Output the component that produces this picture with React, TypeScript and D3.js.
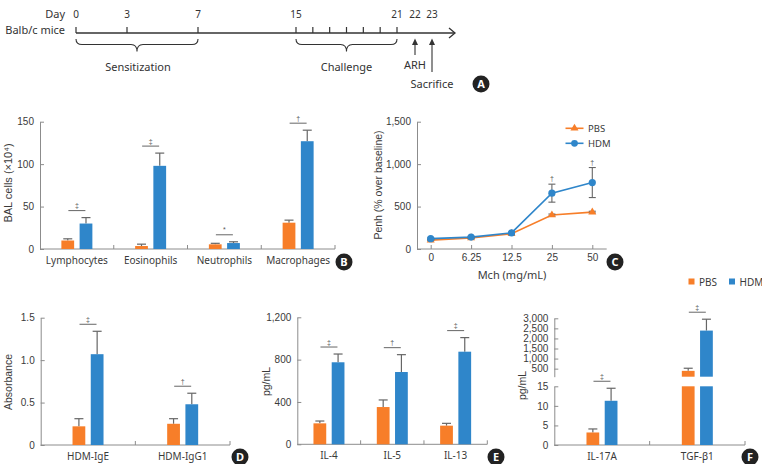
import { useEffect, useRef } from "react";
import * as d3 from "d3";

const ORANGE = "#F77E29";
const BLUE = "#2F86CA";
const AXIS = "#8c8c8c";
const ERR = "#666666";
const TEXT = "#3a3a3a";

// A: protocol timeline
const dayLabels = [0, 3, 7, 15, 21, 22, 23];
const dayTicks = [0, 3, 7, 15, 16, 17, 18, 19, 20, 21];

// B: BAL cells (x10^4)
const bCats = ["Lymphocytes", "Eosinophils", "Neutrophils", "Macrophages"];
const bPbs = [10, 3.5, 5.5, 31];
const bPbsErr = [2, 2.2, 1.2, 3];
const bHdm = [30, 98, 7, 127];
const bHdmErr = [7, 15, 1.5, 13];
const bSig = ["‡", "‡", "*", "†"];
const bTicks = [0, 50, 100, 150];

// C: Penh (% over baseline)
const mch = ["0", "6.25", "12.5", "25", "50"];
const cPbs = [105, 130, 180, 400, 435];
const cPbsErr = [6, 6, 8, 12, 10];
const cHdm = [122, 140, 190, 658, 783];
const cHdmErr = [8, 8, 10, 106, 177];
const cSig = ["", "", "", "†", "†"];
const cTicks = [0, 500, 1000, 1500];

// D: absorbance
const dCats = ["HDM-IgE", "HDM-IgG1"];
const dPbs = [0.22, 0.25];
const dPbsErr = [0.09, 0.06];
const dHdm = [1.07, 0.48];
const dHdmErr = [0.27, 0.13];
const dSig = ["‡", "†"];
const dTicks = [0, 0.5, 1.0, 1.5];

// E: pg/mL
const eCats = ["IL-4", "IL-5", "IL-13"];
const ePbs = [198, 352, 176];
const ePbsErr = [22, 67, 22];
const eHdm = [775, 683, 875];
const eHdmErr = [78, 164, 133];
const eSig = ["‡", "†", "‡"];
const eTicks = [0, 400, 800, 1200];

// F: pg/mL, broken axis
const fCats = ["IL-17A", "TGF-β1"];
const fPbs = [3.2, 390];
const fPbsErr = [0.9, 130];
const fHdm = [11.3, 2390];
const fHdmErr = [3.2, 565];
const fSig = ["‡", "‡"];
const fLowTicks = [0, 5, 10, 15];
const fHighTicks = [500, 1000, 1500, 2000, 2500, 3000];

const sans = "'Noto Sans', sans-serif";
const num = "'Liberation Sans', Arial, sans-serif";

type Sel = d3.Selection<SVGGElement, unknown, null, undefined>;

function leftAxis(g: Sel, scale: d3.ScaleLinear<number, number>, ticks: number[], fmt: (d: number) => string, x: number) {
  const a = g
    .append("g")
    .attr("transform", `translate(${x},0)`)
    .call(d3.axisLeft(scale).tickValues(ticks).tickFormat(fmt as any).tickSize(-4).tickSizeOuter(0).tickPadding(6));
  a.attr("font-family", num).attr("font-size", 10);
  a.select(".domain").attr("stroke", AXIS);
  a.selectAll(".tick line").attr("stroke", AXIS);
  a.selectAll(".tick text").attr("fill", TEXT);
}

function barPanel(
  g: Sel,
  cats: string[],
  pbs: number[],
  pbsErr: number[],
  hdm: number[],
  hdmErr: number[],
  sig: string[],
  xr: [number, number],
  yv: (v: number) => number,
  segments: [number, number][]
) {
  const x = d3.scaleBand<string>().domain(cats).range(xr);
  const inner = d3.scaleBand<string>().domain(["PBS", "HDM"]).range([-15.5, 15.5]).paddingInner(0.3);
  const y0 = yv(0);

  // bottom axis
  g.append("line").attr("x1", xr[0]).attr("x2", xr[1]).attr("y1", y0).attr("y2", y0).attr("stroke", AXIS);
  cats.forEach((c) => {
    const bx = (x(c) ?? 0) + x.bandwidth();
    g.append("line").attr("x1", bx).attr("x2", bx).attr("y1", y0).attr("y2", y0 - 4).attr("stroke", AXIS);
    g.append("text")
      .attr("x", (x(c) ?? 0) + x.bandwidth() / 2)
      .attr("y", y0 + 15)
      .attr("text-anchor", "middle")
      .attr("font-family", sans)
      .attr("font-size", 10)
      .attr("fill", TEXT)
      .text(c);
  });

  cats.forEach((c, i) => {
    const cx = (x(c) ?? 0) + x.bandwidth() / 2;
    const groups = [
      { key: "PBS", v: pbs[i], e: pbsErr[i], color: ORANGE },
      { key: "HDM", v: hdm[i], e: hdmErr[i], color: BLUE },
    ];
    groups.forEach((s) => {
      const bx = cx + (inner(s.key) ?? 0);
      const bw = inner.bandwidth();
      // error bar (upper only)
      g.append("line")
        .attr("x1", bx + bw / 2)
        .attr("x2", bx + bw / 2)
        .attr("y1", yv(s.v))
        .attr("y2", yv(s.v + s.e))
        .attr("stroke", ERR)
        .attr("stroke-width", 1.2);
      g.append("line")
        .attr("x1", bx + bw / 2 - 4.5)
        .attr("x2", bx + bw / 2 + 4.5)
        .attr("y1", yv(s.v + s.e))
        .attr("y2", yv(s.v + s.e))
        .attr("stroke", ERR)
        .attr("stroke-width", 1.2);
      segments.forEach(([lo, hi]) => {
        if (s.v <= lo) return;
        const top = yv(Math.min(s.v, hi));
        const bot = yv(lo);
        g.append("rect").attr("x", bx).attr("y", top).attr("width", bw).attr("height", bot - top).attr("fill", s.color);
      });
    });
    // significance
    const ly = yv(Math.max(pbs[i] + pbsErr[i], hdm[i] + hdmErr[i])) - 7;
    g.append("line").attr("x1", cx - 8.5).attr("x2", cx + 8.5).attr("y1", ly).attr("y2", ly).attr("stroke", ERR).attr("stroke-width", 1);
    g.append("text")
      .attr("x", cx)
      .attr("y", ly - 2.5)
      .attr("text-anchor", "middle")
      .attr("font-family", num)
      .attr("font-size", 7)
      .attr("fill", "#555")
      .text(sig[i]);
  });
}

function yTitle(g: Sel, text: string, x: number, y: number, size = 10) {
  g.append("text")
    .attr("transform", `translate(${x},${y}) rotate(-90)`)
    .attr("text-anchor", "middle")
    .attr("font-family", num)
    .attr("font-size", size)
    .attr("fill", TEXT)
    .text(text);
}

function badge(g: Sel, letter: string, x: number, y: number) {
  g.append("circle").attr("cx", x).attr("cy", y).attr("r", 8.5).attr("fill", "#222");
  g.append("text")
    .attr("x", x)
    .attr("y", y + 4)
    .attr("text-anchor", "middle")
    .attr("font-family", sans)
    .attr("font-weight", 700)
    .attr("font-size", 11)
    .attr("fill", "#fff")
    .text(letter);
}

function brace(x1: number, x2: number, y0: number, y1: number, y2: number) {
  const r = 6;
  const m = (x1 + x2) / 2;
  return `M${x1},${y0}Q${x1},${y1} ${x1 + r},${y1}L${m - r},${y1}Q${m},${y1} ${m},${y2}Q${m},${y1} ${m + r},${y1}L${x2 - r},${y1}Q${x2},${y1} ${x2},${y0}`;
}

export default function App() {
  const ref = useRef<SVGSVGElement>(null);

  useEffect(() => {
    if (!ref.current) return;
    const svg = d3.select(ref.current);
    svg.selectAll("*").remove();
    const root = svg.append("g") as unknown as Sel;

    // ---------- A: timeline
    const xd = d3.scaleLinear().domain([0, 3, 7, 15, 21, 22, 23]).range([76, 127, 198, 296, 397, 415, 432]);
    const lineY = 33;
    const ink = "#333";
    root.append("line").attr("x1", xd(0)).attr("x2", 455).attr("y1", lineY).attr("y2", lineY).attr("stroke", ink).attr("stroke-width", 1.3);
    root
      .append("path")
      .attr("d", `M449,${lineY - 5}L455,${lineY}L449,${lineY + 5}`)
      .attr("fill", "none")
      .attr("stroke", ink)
      .attr("stroke-width", 1.3);
    dayTicks.forEach((d) => {
      root.append("line").attr("x1", xd(d)).attr("x2", xd(d)).attr("y1", lineY).attr("y2", lineY - 6).attr("stroke", ink).attr("stroke-width", 1.2);
    });
    dayLabels.forEach((d) => {
      root
        .append("text")
        .attr("x", xd(d))
        .attr("y", 18)
        .attr("text-anchor", "middle")
        .attr("font-family", sans)
        .attr("font-size", 10)
        .attr("fill", ink)
        .text(d);
    });
    root.append("text").attr("x", 65).attr("y", 18).attr("text-anchor", "end").attr("font-family", sans).attr("font-size", 11).attr("fill", ink).text("Day");
    root
      .append("text")
      .attr("x", 65)
      .attr("y", 33.5)
      .attr("text-anchor", "end")
      .attr("font-family", sans)
      .attr("font-size", 11)
      .attr("fill", ink)
      .text("Balb/c mice");
    root.append("path").attr("d", brace(xd(0), xd(7), 39, 44.5, 51.5)).attr("fill", "none").attr("stroke", ink).attr("stroke-width", 1.1);
    root.append("path").attr("d", brace(xd(15), xd(21), 39, 44.5, 51.5)).attr("fill", "none").attr("stroke", ink).attr("stroke-width", 1.1);
    root
      .append("text")
      .attr("x", (xd(0) + xd(7)) / 2 + 1)
      .attr("y", 71)
      .attr("text-anchor", "middle")
      .attr("font-family", sans)
      .attr("font-size", 11)
      .attr("fill", ink)
      .text("Sensitization");
    root
      .append("text")
      .attr("x", (xd(15) + xd(21)) / 2)
      .attr("y", 71)
      .attr("text-anchor", "middle")
      .attr("font-family", sans)
      .attr("font-size", 11)
      .attr("fill", ink)
      .text("Challenge");
    const arrow = (d: number, yEnd: number, label: string, ly: number) => {
      const ax = xd(d);
      root.append("line").attr("x1", ax).attr("x2", ax).attr("y1", 41).attr("y2", yEnd).attr("stroke", ink).attr("stroke-width", 1.1);
      root.append("path").attr("d", `M${ax},38.5L${ax - 3},45L${ax + 3},45Z`).attr("fill", ink);
      root
        .append("text")
        .attr("x", ax)
        .attr("y", ly)
        .attr("text-anchor", "middle")
        .attr("font-family", sans)
        .attr("font-size", 11)
        .attr("fill", ink)
        .text(label);
    };
    arrow(22, 55, "ARH", 69);
    arrow(23, 72, "Sacrifice", 88);
    badge(root, "A", 481, 84);

    // ---------- B
    const yB = d3.scaleLinear().domain([0, 150]).range([249, 121.7]);
    leftAxis(root, yB, bTicks, (d) => String(d), 40);
    barPanel(root, bCats, bPbs, bPbsErr, bHdm, bHdmErr, bSig, [40, 335], yB, [[0, Infinity]]);
    yTitle(root, "BAL cells (×10⁴)", 11.5, 183, 11);
    badge(root, "B", 344, 262);

    // ---------- C
    const yC = d3.scaleLinear().domain([0, 1500]).range([249, 121.7]);
    const xC = d3.scalePoint<string>().domain(mch).range([430.7, 592.3]);
    leftAxis(root, yC, cTicks, d3.format(","), 417);
    root.append("line").attr("x1", 417).attr("x2", 606.7).attr("y1", 249).attr("y2", 249).attr("stroke", AXIS);
    const ax = root
      .append("g")
      .attr("transform", "translate(0,249)")
      .call(d3.axisBottom(xC).tickSize(-4).tickSizeOuter(0).tickPadding(6));
    ax.attr("font-family", num).attr("font-size", 10);
    ax.select(".domain").remove();
    ax.selectAll(".tick line").attr("stroke", AXIS);
    ax.selectAll(".tick text").attr("fill", TEXT).attr("dy", "0.55em");
    root
      .append("text")
      .attr("x", 512)
      .attr("y", 279)
      .attr("text-anchor", "middle")
      .attr("font-family", sans)
      .attr("font-size", 11)
      .attr("fill", TEXT)
      .text("Mch (mg/mL)");
    yTitle(root, "Penh (% over baseline)", 382, 185, 10.5);

    const series = [
      { vals: cPbs, errs: cPbsErr, color: ORANGE, shape: "tri" },
      { vals: cHdm, errs: cHdmErr, color: BLUE, shape: "dot" },
    ];
    series.forEach((s) => {
      const line = d3
        .line<number>()
        .x((_, i) => xC(mch[i]) ?? 0)
        .y((v) => yC(v));
      root.append("path").attr("d", line(s.vals)).attr("fill", "none").attr("stroke", s.color).attr("stroke-width", 1.6);
      s.vals.forEach((v, i) => {
        const px = xC(mch[i]) ?? 0;
        const hi = yC(v + s.errs[i]);
        const lo = yC(v - s.errs[i]);
        root.append("line").attr("x1", px).attr("x2", px).attr("y1", hi).attr("y2", lo).attr("stroke", ERR).attr("stroke-width", 1.1);
        [hi, lo].forEach((yy) =>
          root.append("line").attr("x1", px - 3.5).attr("x2", px + 3.5).attr("y1", yy).attr("y2", yy).attr("stroke", ERR).attr("stroke-width", 1.1)
        );
      });
      s.vals.forEach((v, i) => {
        const px = xC(mch[i]) ?? 0;
        if (s.shape === "dot") {
          root.append("circle").attr("cx", px).attr("cy", yC(v)).attr("r", 3.6).attr("fill", s.color);
        } else {
          root
            .append("path")
            .attr("transform", `translate(${px},${yC(v)})`)
            .attr("d", d3.symbol().type(d3.symbolTriangle).size(28)())
            .attr("fill", s.color);
        }
      });
    });
    cSig.forEach((sg, i) => {
      if (!sg) return;
      root
        .append("text")
        .attr("x", xC(mch[i]) ?? 0)
        .attr("y", yC(cHdm[i] + cHdmErr[i]) - 3)
        .attr("text-anchor", "middle")
        .attr("font-family", num)
        .attr("font-size", 7)
        .attr("fill", "#555")
        .text(sg);
    });
    // C legend
    [
      { label: "PBS", color: ORANGE, shape: "tri", y: 128.3 },
      { label: "HDM", color: BLUE, shape: "dot", y: 143.3 },
    ].forEach((l) => {
      root.append("line").attr("x1", 565.5).attr("x2", 583.5).attr("y1", l.y).attr("y2", l.y).attr("stroke", l.color).attr("stroke-width", 1.6);
      if (l.shape === "dot") root.append("circle").attr("cx", 574.5).attr("cy", l.y).attr("r", 3.4).attr("fill", l.color);
      else
        root
          .append("path")
          .attr("transform", `translate(574.5,${l.y})`)
          .attr("d", d3.symbol().type(d3.symbolTriangle).size(28)())
          .attr("fill", l.color);
      root
        .append("text")
        .attr("x", 588)
        .attr("y", l.y + 3.5)
        .attr("font-family", sans)
        .attr("font-size", 9.5)
        .attr("fill", TEXT)
        .text(l.label);
    });
    badge(root, "C", 615, 262);

    // ---------- D
    const yD = d3.scaleLinear().domain([0, 1.5]).range([445, 317.7]);
    leftAxis(root, yD, dTicks, (d) => (d === 0 ? "0" : d3.format(".1f")(d)), 40.7);
    barPanel(root, dCats, dPbs, dPbsErr, dHdm, dHdmErr, dSig, [40.7, 230], yD, [[0, Infinity]]);
    yTitle(root, "Absorbance", 11.5, 382, 10.5);
    badge(root, "D", 240, 457);

    // ---------- E
    const yE = d3.scaleLinear().domain([0, 1200]).range([444.3, 317.3]);
    leftAxis(root, yE, eTicks, d3.format(","), 297.3);
    barPanel(root, eCats, ePbs, ePbsErr, eHdm, eHdmErr, eSig, [297.3, 487.3], yE, [[0, Infinity]]);
    yTitle(root, "pg/mL", 269.5, 381.5, 10.5);
    badge(root, "E", 496, 457);

    // ---------- F (broken axis)
    const yLow = d3.scaleLinear().domain([0, 15]).range([445, 386.3]);
    const yHigh = d3.scaleLinear().domain([100, 3000]).range([376.7, 318.3]);
    const yF = (v: number) => (v <= 15 ? yLow(v) : yHigh(v));
    leftAxis(root, yLow, fLowTicks, (d) => String(d), 554.3);
    leftAxis(root, yHigh, fHighTicks, d3.format(","), 554.3);
    barPanel(root, fCats, fPbs, fPbsErr, fHdm, fHdmErr, fSig, [554.3, 745], yF, [
      [0, 15],
      [100, Infinity],
    ]);
    yTitle(root, "pg/mL", 525.5, 385.5, 10.5);
    badge(root, "F", 750, 457);

    // D-F legend
    [
      { label: "PBS", color: ORANGE, x: 688.5 },
      { label: "HDM", color: BLUE, x: 729 },
    ].forEach((l) => {
      root.append("rect").attr("x", l.x).attr("y", 278.5).attr("width", 6).attr("height", 6).attr("fill", l.color);
      root
        .append("text")
        .attr("x", l.x + 10.5)
        .attr("y", 285.5)
        .attr("font-family", sans)
        .attr("font-size", 10)
        .attr("fill", TEXT)
        .text(l.label);
    });
  }, []);

  return (
    <svg
      ref={ref}
      width={762}
      height={464}
      style={{ position: "absolute", left: 0, top: 0, background: "#fff" }}
    />
  );
}
